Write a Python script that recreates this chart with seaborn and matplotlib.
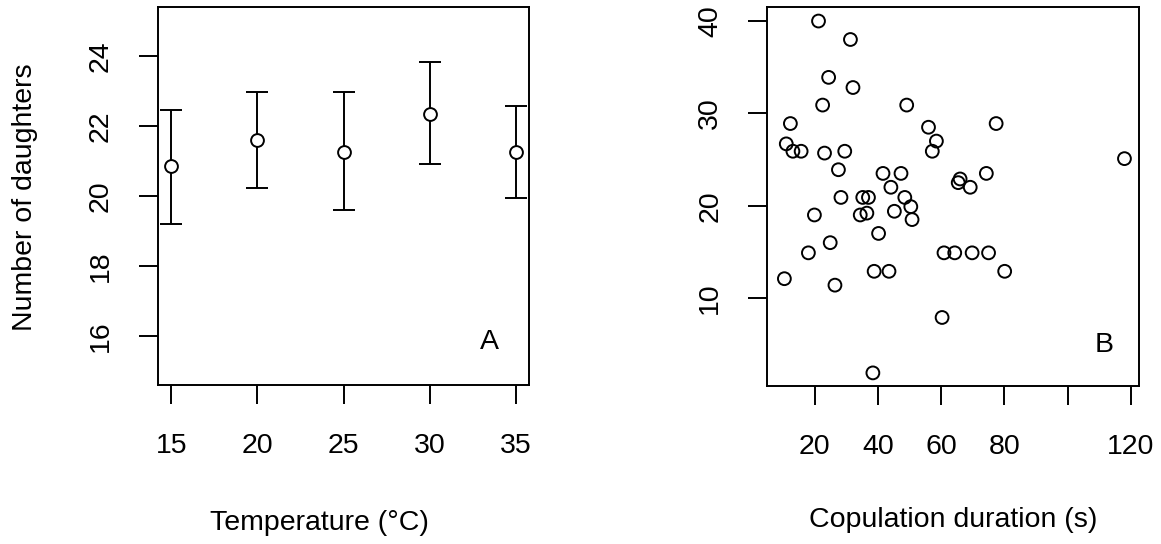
import numpy as np
import pandas as pd
import matplotlib
matplotlib.use("Agg")
import matplotlib.pyplot as plt
import seaborn as sns

# ---- Data ----
temperature = [15, 20, 25, 30, 35]
mean_daughters = [20.86, 21.60, 21.26, 22.34, 21.26]
upper_daughters = [22.46, 22.97, 22.97, 23.83, 22.57]
lower_daughters = [19.21, 20.23, 19.60, 20.91, 19.94]

cop_duration = [21.2, 31.3, 24.4, 32.1, 22.5, 49.1, 12.3, 77.4, 56.0, 58.5,
                57.2, 11.0, 13.1, 15.7, 23.1, 29.5, 118.0, 27.5, 41.6, 47.3,
                74.3, 66.0, 65.4, 69.2, 44.1, 28.3, 35.2, 37.0, 48.5, 50.4,
                19.9, 34.4, 36.5, 45.2, 50.8, 40.2, 24.9, 18.0, 60.9, 64.3,
                69.8, 75.0, 38.8, 43.5, 80.1, 10.4, 26.4, 60.3, 38.4]
cop_daughters = [40.0, 38.0, 33.9, 32.8, 30.9, 30.9, 28.9, 28.9, 28.5, 27.0,
                 25.9, 26.7, 25.9, 25.9, 25.7, 25.9, 25.1, 23.9, 23.5, 23.5,
                 23.5, 22.9, 22.5, 22.0, 22.0, 20.9, 20.9, 20.9, 20.9, 19.9,
                 19.0, 19.0, 19.2, 19.4, 18.5, 17.0, 16.0, 14.9, 14.9, 14.9,
                 14.9, 14.9, 12.9, 12.9, 12.9, 12.1, 11.4, 7.9, 1.9]

a_xticks = [15, 20, 25, 30, 35]
a_yticks = [16, 18, 20, 22, 24]
b_xticks = [20, 40, 60, 80, 100, 120]
b_xticklabels = ["20", "40", "60", "80", "", "120"]
b_yticks = [10, 20, 30, 40]

sns.set_theme(style="white")
plt.rcParams['font.family'] = ['Liberation Sans', 'DejaVu Sans']

FS = 20.5
LW = 1.4

fig = plt.figure(figsize=(11.61, 5.44), dpi=100)
W, H = 1161, 544
axA = fig.add_axes([157.7 / W, (H - 385) / H, (529.3 - 157.7) / W, (385 - 7) / H])
axB = fig.add_axes([767 / W, (H - 386) / H, (1139 - 767) / W, (386 - 7) / H])

dfA = pd.DataFrame({"temp": temperature, "mean": mean_daughters,
                    "up": upper_daughters, "lo": lower_daughters})
yerr = np.vstack([dfA["mean"] - dfA["lo"], dfA["up"] - dfA["mean"]])
axA.errorbar(dfA["temp"], dfA["mean"], yerr=yerr, fmt="none", ecolor="black",
             elinewidth=LW, capsize=7.7, capthick=LW)
sns.scatterplot(data=dfA, x="temp", y="mean", ax=axA, marker="o", s=85,
                facecolor="white", edgecolor="black", linewidth=LW, zorder=3)

dfB = pd.DataFrame({"dur": cop_duration, "dau": cop_daughters})
sns.scatterplot(data=dfB, x="dur", y="dau", ax=axB, marker="o", s=85,
                facecolor="none", edgecolor="black", linewidth=LW)

for ax in (axA, axB):
    for sp in ax.spines.values():
        sp.set_visible(True)
        sp.set_color("black")
        sp.set_linewidth(LW)
    ax.tick_params(axis="both", which="major", direction="out", length=14,
                   width=LW, color="black", labelsize=FS, labelcolor="black",
                   bottom=True, left=True)
    ax.tick_params(axis="x", pad=20.5)
    ax.tick_params(axis="y", pad=17.5)
    ax.grid(False)

axA.set_xlim(14.2, 35.8)
axA.set_ylim(14.6, 25.4)
axA.set_xticks(a_xticks)
axA.set_yticks(a_yticks)
axA.set_xticklabels([str(t) for t in a_xticks])
axA.set_yticklabels([str(t) for t in a_yticks], rotation=90, va="center")
axA.set_xlabel("Temperature (°C)", fontsize=FS, color="black", va="center")
axA.set_ylabel("Number of daughters", fontsize=FS, color="black", va="center")
axA.xaxis.set_label_coords((319 - 157.7) / (529.3 - 157.7), -(523 - 385) / 378)
axA.yaxis.set_label_coords(-(157.7 - 25) / (529.3 - 157.7), (385 - 197) / 378)
axA.text(33.5, 15.82, "A", fontsize=FS, ha="center", va="center", color="black")

axB.set_xlim(4.9, 122.6)
axB.set_ylim(0.48, 41.52)
axB.set_xticks(b_xticks)
axB.set_xticklabels(b_xticklabels)
axB.set_yticks(b_yticks)
axB.set_yticklabels([str(t) for t in b_yticks], rotation=90, va="center")
axB.set_xlabel("Copulation duration (s)", fontsize=FS, color="black", va="center")
axB.set_ylabel("")
axB.xaxis.set_label_coords(0.5, -(520 - 386) / 379)
axB.text(111.7, 4.9, "B", fontsize=FS, ha="center", va="center", color="black")

fig.savefig("out.png", dpi=100, facecolor="white")
